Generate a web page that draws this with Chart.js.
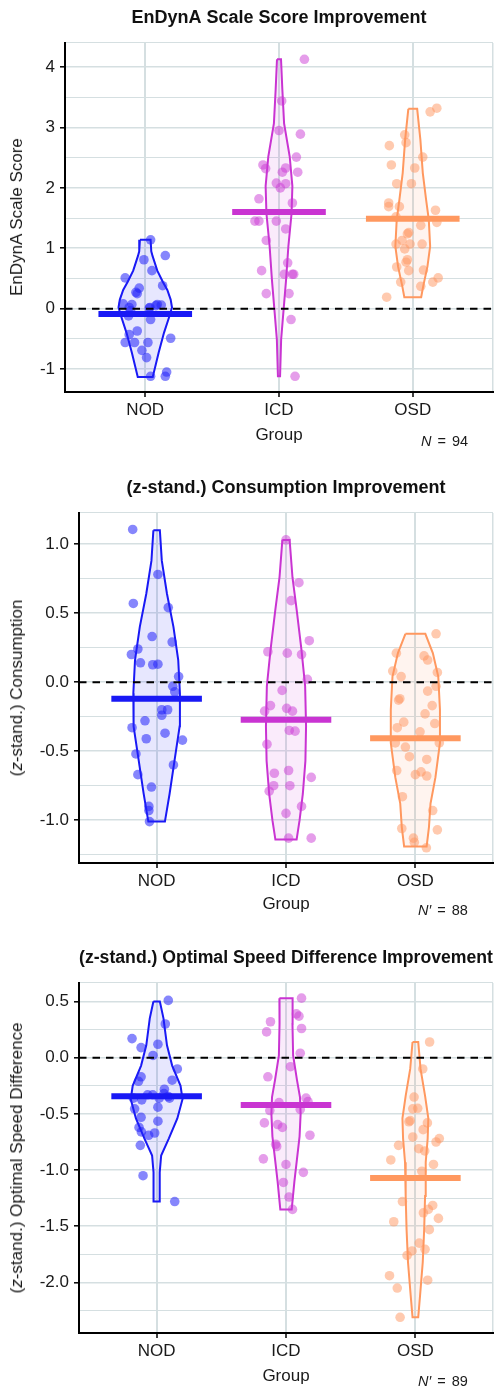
<!DOCTYPE html>
<html>
<head>
<meta charset="utf-8">
<script src="https://cdn.jsdelivr.net/npm/chart.js@4.4.1/dist/chart.umd.min.js"></script>
<style>
  html, body { margin: 0; padding: 0; background: #fff; }
  body { width: 503px; font-family: "Liberation Sans", Arial, sans-serif; color: #1a1a1a; }
  .panel { position: relative; width: 503px; }
  .panel canvas { position: absolute; left: 0; top: 0; }
  .ytitle { position: absolute; white-space: nowrap; font-size: 17px; line-height: 20px;
            transform: translate(-50%, -50%) rotate(-90deg); }
  .nlabel { position: absolute; white-space: nowrap; font-size: 14.5px; line-height: 16px;
            transform: translateY(-50%); word-spacing: 2px; }
</style>
</head>
<body>
<div class="panel" id="p1" style="height:462px">
  <canvas id="c1" width="503" height="462"></canvas>
  <div class="ytitle" style="left:17px;top:217px">EnDynA Scale Score</div>
  <div class="nlabel" style="left:421px;top:441px"><i>N</i> = 94</div>
</div>
<div class="panel" id="p2" style="height:471px">
  <canvas id="c2" width="503" height="471"></canvas>
  <div class="ytitle" style="left:17px;top:226px">(<i>z</i>-stand.) Consumption</div>
  <div class="nlabel" style="left:418px;top:448px"><i>N′</i> = 88</div>
</div>
<div class="panel" id="p3" style="height:454px">
  <canvas id="c3" width="503" height="454"></canvas>
  <div class="ytitle" style="left:17px;top:225px">(<i>z</i>-stand.) Optimal Speed Difference</div>
  <div class="nlabel" style="left:418px;top:448px"><i>N′</i> = 89</div>
</div>

<script>
// ---------- groups ----------
const groups = ['NOD', 'ICD', 'OSD'];

// ---------- EnDynA scale score improvement ----------
const scoreNOD = [1.14, 0.88, 0.81, 0.63, 0.51, 0.38, 0.34, 0.27, 0.25, 0.08, 0.07, 0.02, 0.02, 0.07, 0.06, 0.01,
  -0.03, 0.05, -0.12, -0.18, -0.37, -0.43, -0.56, -0.56, -0.56, -0.49, -0.69, -0.81, -1.12, -1.12, -1.05];
const scoreNODJitter = [0.04, 0.15, -0.01, 0.05, -0.15, 0.13, -0.045, -0.07, -0.06, -0.165, -0.10, -0.12, 0.035, 0.09, 0.12, 0.03,
  -0.11, 0.08, -0.125, 0.04, -0.06, -0.12, -0.15, -0.08, 0.02, 0.19, -0.025, 0.01, 0.04, 0.15, 0.16];
const scoreICD = [4.13, 3.44, 2.95, 2.89, 2.51, 2.38, 2.32, 2.33, 2.26, 2.26, 2.08, 2.07, 2.00, 1.82, 1.75, 1.45, 1.45,
  1.45, 1.32, 1.13, 0.76, 0.63, 0.57, 0.57, 0.57, 0.25, 0.25, -0.18, -1.12];
const scoreICDJitter = [0.19, 0.02, 0.0, 0.16, 0.13, -0.12, -0.10, 0.05, 0.025, 0.14, -0.02, 0.05, 0.01, -0.15, 0.10, -0.18, -0.15,
  -0.02, 0.05, -0.095, 0.065, -0.13, 0.04, 0.10, 0.11, -0.095, 0.075, 0.09, 0.12];
const scoreOSD = [3.32, 3.26, 2.88, 2.75, 2.70, 2.51, 2.38, 2.33, 2.07, 2.07, 1.75, 1.69, 1.69, 1.63, 1.52, 1.43, 1.38,
  1.26, 1.24, 1.13, 1.07, 1.07, 1.07, 0.99, 0.81, 0.77, 0.69, 0.63, 0.64, 0.44, 0.44, 0.51, 0.37, 0.19];
const scoreOSDJitter = [0.18, 0.13, -0.06, -0.05, -0.175, 0.075, -0.16, 0.015, -0.12, -0.01, -0.18, -0.18, -0.10, 0.17, -0.125, 0.18, 0.06,
  -0.03, -0.04, -0.08, -0.125, -0.02, 0.07, -0.06, -0.04, -0.05, -0.12, -0.03, 0.08, -0.09, 0.15, 0.19, 0.06, -0.195];
const scoreMedians = [-0.09, 1.60, 1.49];
// violin outlines: [value, half width of the density]
const scoreViolinNOD = [[1.14, 0.04], [0.95, 0.045], [0.87, 0.055], [0.63, 0.09], [0.45, 0.13], [0.31, 0.165], [0.15, 0.19],
  [0.02, 0.2], [-0.13, 0.18], [-0.40, 0.14], [-0.73, 0.1], [-1.13, 0.056]];
const scoreViolinICD = [[4.13, 0.015], [3.63, 0.025], [3.07, 0.038], [2.52, 0.08], [2.03, 0.1], [1.58, 0.094], [1.03, 0.07],
  [0.48, 0.053], [0.0, 0.035], [-0.51, 0.016], [-1.12, 0.008]];
const scoreViolinOSD = [[3.31, 0.033], [2.80, 0.057], [2.25, 0.075], [1.80, 0.10], [1.47, 0.12], [1.03, 0.13], [0.70, 0.11],
  [0.37, 0.078], [0.19, 0.063]];

// ---------- consumption improvement ----------
const consNOD = [1.106, 0.78, 0.57, 0.54, 0.33, 0.29, 0.24, 0.20, 0.14, 0.126, 0.13, 0.04, -0.03, -0.07, -0.20, -0.20,
  -0.24, -0.28, -0.33, -0.41, -0.37, -0.42, -0.52, -0.60, -0.67, -0.76, -0.90, -0.93, -1.01];
const consNODJitter = [-0.185, 0.01, -0.18, 0.09, -0.035, 0.12, -0.145, -0.195, -0.125, -0.03, 0.01, 0.17, 0.125, 0.14, 0.04, 0.085,
  0.04, -0.09, -0.19, -0.08, 0.065, 0.20, -0.16, 0.13, -0.145, -0.04, -0.06, -0.06, -0.055];
const consICD = [1.03, 0.72, 0.59, 0.30, 0.22, 0.21, 0.20, 0.02, -0.06, -0.17, -0.21, -0.19, -0.21, -0.35, -0.355, -0.45,
  -0.64, -0.66, -0.75, -0.79, -0.75, -0.69, -0.90, -0.95, -1.13, -1.13];
const consICDJitter = [0.0, 0.10, 0.04, 0.18, -0.14, 0.01, 0.12, 0.165, -0.03, -0.12, -0.165, 0.005, 0.05, 0.025, 0.07, -0.147,
  0.02, -0.09, -0.095, -0.13, 0.03, 0.195, 0.12, 0.0, 0.02, 0.195];
const consOSD = [0.35, 0.21, 0.19, 0.16, 0.08, 0.04, 0.07, -0.03, -0.065, -0.13, -0.12, -0.17, -0.23, -0.30, -0.29, -0.33,
  -0.36, -0.44, -0.44, -0.47, -0.54, -0.56, -0.64, -0.67, -0.65, -0.68, -0.83, -0.93, -1.06, -1.07, -1.13, -1.16, -1.20];
const consOSDJitter = [0.16, -0.147, 0.067, 0.095, -0.175, -0.11, 0.17, 0.16, 0.095, -0.13, -0.12, 0.13, 0.075, 0.15, -0.09, -0.14,
  0.036, -0.155, 0.185, -0.077, -0.046, 0.088, -0.144, 0.0, 0.044, 0.088, -0.10, 0.134, -0.105, 0.17, -0.015, -0.008, 0.085];
const consMedians = [-0.12, -0.273, -0.406];
const consViolinNOD = [[1.10, 0.025], [0.88, 0.04], [0.64, 0.08], [0.40, 0.13], [0.16, 0.167], [-0.08, 0.18], [-0.32, 0.178],
  [-0.57, 0.138], [-0.81, 0.10], [-1.01, 0.064]];
const consViolinICD = [[1.03, 0.028], [0.76, 0.05], [0.52, 0.083], [0.23, 0.12], [-0.03, 0.148], [-0.32, 0.155], [-0.57, 0.15],
  [-0.81, 0.13], [-1.00, 0.105], [-1.14, 0.082]];
const consViolinOSD = [[0.35, 0.077], [0.21, 0.135], [0.04, 0.177], [-0.20, 0.19], [-0.44, 0.19], [-0.69, 0.155], [-0.88, 0.117],
  [-1.05, 0.105], [-1.19, 0.087]];

// ---------- optimal speed difference improvement ----------
const speedNOD = [0.51, 0.30, 0.17, 0.09, 0.12, 0.02, -0.10, -0.17, -0.21, -0.20, -0.28, -0.33, -0.36, -0.375, -0.36, -0.32,
  -0.345, -0.33, -0.36, -0.44, -0.455, -0.53, -0.565, -0.62, -0.66, -0.67, -0.69, -0.78, -1.05, -1.28];
const speedNODJitter = [0.09, 0.067, -0.19, -0.12, 0.01, -0.028, 0.16, -0.12, -0.14, 0.12, 0.06, -0.07, -0.18, -0.115, 0.02, 0.057,
  0.09, -0.03, 0.10, 0.01, -0.17, -0.12, 0.01, -0.136, -0.118, -0.015, -0.062, -0.126, -0.105, 0.14];
const speedICD = [0.53, 0.39, 0.37, 0.32, 0.23, 0.26, 0.04, -0.08, -0.17, -0.36, -0.39, -0.40, -0.47, -0.46, -0.58, -0.595,
  -0.62, -0.69, -0.77, -0.79, -0.90, -0.95, -1.02, -1.11, -1.24, -1.35];
const speedICDJitter = [0.12, 0.08, 0.10, -0.12, -0.15, 0.12, 0.11, 0.035, -0.14, 0.155, 0.17, -0.054, -0.125, 0.11, -0.167, -0.064,
  -0.028, 0.185, -0.08, -0.072, -0.175, 0.0, 0.134, -0.02, 0.023, 0.05];
const speedOSD = [0.14, -0.10, -0.35, -0.455, -0.45, -0.56, -0.57, -0.58, -0.64, -0.705, -0.72, -0.75, -0.78, -0.81, -0.83, -0.91,
  -0.95, -1.01, -1.28, -1.315, -1.35, -1.38, -1.46, -1.43, -1.53, -1.65, -1.72, -1.76, -1.705, -1.94, -2.05, -1.98, -2.31];
const speedOSDJitter = [0.11, 0.057, -0.01, -0.02, 0.018, -0.04, -0.05, 0.093, 0.06, -0.02, 0.185, 0.16, -0.13, 0.026, 0.072, -0.19,
  0.14, 0.05, -0.1, 0.134, 0.10, 0.062, -0.167, 0.178, 0.108, 0.03, -0.026, -0.064, 0.075, -0.2, -0.14, 0.095, -0.118];
const speedMedians = [-0.342, -0.42, -1.07];
const speedViolinNOD = [[0.50, 0.025], [0.35, 0.053], [0.11, 0.08], [-0.07, 0.12], [-0.25, 0.185], [-0.37, 0.2], [-0.54, 0.16],
  [-0.72, 0.094], [-0.87, 0.035], [-1.02, 0.024], [-1.28, 0.024]];
const speedViolinICD = [[0.53, 0.051], [0.30, 0.05], [0.02, 0.055], [-0.20, 0.085], [-0.35, 0.108], [-0.50, 0.113], [-0.70, 0.105],
  [-0.90, 0.085], [-1.10, 0.065], [-1.35, 0.044]];
const speedViolinOSD = [[0.14, 0.022], [-0.10, 0.04], [-0.34, 0.075], [-0.54, 0.1], [-0.72, 0.095], [-0.93, 0.08], [-1.23, 0.075],
  [-1.53, 0.068], [-1.82, 0.057], [-2.12, 0.036], [-2.31, 0.022]];

// ---------- styling ----------
const lineColors  = ['rgb(25,25,245)', 'rgb(201,52,210)', 'rgb(255,152,95)'];
const pointColors = ['rgba(35,35,250,0.55)', 'rgba(204,60,214,0.5)', 'rgba(255,150,95,0.5)'];
const fillColors  = ['rgba(35,35,250,0.11)', 'rgba(204,60,214,0.1)', 'rgba(255,150,95,0.1)'];
const gridColor = '#d5dfe1';
const textColor = '#1a1a1a';
const X_MIN = -0.6, X_MAX = 2.6, BAR_HALF = 0.35;

Chart.defaults.font.family = '"Liberation Sans", Arial, Helvetica, sans-serif';
Chart.defaults.color = textColor;

function violinOutline(center, profile) {
  const left = profile.map(([y, w]) => ({ x: center - w, y }));
  const right = profile.slice().reverse().map(([y, w]) => ({ x: center + w, y }));
  return left.concat(right, [left[0]]);
}

function isMultiple(v, step) {
  const r = v / step;
  return Math.abs(r - Math.round(r)) < 1e-6;
}

function buildPanel(canvasId, cfg) {
  const datasets = [];
  cfg.violins.forEach((profile, g) => {
    datasets.push({
      data: violinOutline(g, profile), showLine: true, fill: 'shape', tension: 0,
      borderColor: lineColors[g], backgroundColor: fillColors[g], borderWidth: 2,
      pointRadius: 0, order: 4
    });
  });
  cfg.values.forEach((vals, g) => {
    datasets.push({
      data: vals.map((v, i) => ({ x: g + cfg.jitter[g][i], y: v })),
      backgroundColor: pointColors[g], borderWidth: 0, pointRadius: 4.8, order: 3
    });
  });
  cfg.medians.forEach((m, g) => {
    datasets.push({
      data: [{ x: g - BAR_HALF, y: m }, { x: g + BAR_HALF, y: m }], showLine: true,
      borderColor: lineColors[g], borderWidth: 6, borderCapStyle: 'butt', pointRadius: 0, order: 2
    });
  });
  datasets.push({
    data: [{ x: X_MIN, y: 0 }, { x: X_MAX, y: 0 }], showLine: true,
    borderColor: '#000', borderWidth: 2, borderDash: [7.5, 6], pointRadius: 0, order: 1
  });

  // horizontal grid positions: every minor step plus the top edge
  const yTicks = [];
  for (let k = Math.ceil(cfg.yMin / cfg.yMinor); k * cfg.yMinor <= cfg.yMax + 1e-9; k++) {
    yTicks.push(Math.round(k * cfg.yMinor * 1000) / 1000);
  }
  if (!yTicks.includes(cfg.yMax)) yTicks.push(cfg.yMax);
  const yMajor = v => isMultiple(v, cfg.yMajor);

  return new Chart(document.getElementById(canvasId), {
    type: 'scatter',
    data: { datasets },
    options: {
      responsive: false, animation: false, events: [],
      layout: { padding: { left: 0, right: 10, top: 0, bottom: 0 } },
      plugins: {
        legend: { display: false },
        tooltip: { enabled: false },
        title: {
          display: true, text: cfg.title, fullSize: false, color: '#111',
          font: { size: 18, weight: 'bold' }, padding: cfg.titlePad
        }
      },
      scales: {
        x: {
          type: 'linear', min: X_MIN, max: X_MAX,
          afterBuildTicks: a => { a.ticks = [0, 1, 2, X_MAX].map(v => ({ value: v })); },
          afterFit: s => { s.height = cfg.xAxisH; },
          ticks: {
            autoSkip: false, maxRotation: 0, padding: 3, font: { size: 17 }, color: textColor,
            callback: v => (Number.isInteger(v) ? groups[v] : '')
          },
          grid: {
            color: gridColor,
            lineWidth: c => (c.tick && Number.isInteger(c.tick.value) ? 2 : 1.5),
            tickColor: c => (c.tick && Number.isInteger(c.tick.value) ? '#000' : 'rgba(0,0,0,0)'),
            tickLength: 5, tickWidth: 1.5
          },
          border: { color: '#000', width: 2 },
          title: {
            display: true, text: 'Group', font: { size: 17 }, color: textColor,
            padding: { top: 0, bottom: cfg.groupPad }
          }
        },
        y: {
          type: 'linear', min: cfg.yMin, max: cfg.yMax,
          afterBuildTicks: a => { a.ticks = yTicks.map(v => ({ value: v })); },
          afterFit: s => { s.width = cfg.left; },
          ticks: {
            autoSkip: false, padding: 5, font: { size: 17 }, color: textColor,
            callback: v => (yMajor(v) ? (cfg.decimals ? v.toFixed(cfg.decimals) : String(v)) : '')
          },
          grid: {
            color: gridColor,
            lineWidth: c => (c.tick && yMajor(c.tick.value) ? 1.6 : 1.1),
            tickColor: c => (c.tick && yMajor(c.tick.value) ? '#000' : 'rgba(0,0,0,0)'),
            tickLength: 5, tickWidth: 1.5
          },
          border: { color: '#000', width: 2 }
        }
      }
    }
  });
}

buildPanel('c1', {
  title: 'EnDynA Scale Score Improvement',
  titlePad: { top: 7.2, bottom: 14.2 },
  left: 65, xAxisH: 70, groupPad: 16.8,
  yMin: -1.38, yMax: 4.4, yMinor: 0.5, yMajor: 1, decimals: 0,
  values: [scoreNOD, scoreICD, scoreOSD],
  jitter: [scoreNODJitter, scoreICDJitter, scoreOSDJitter],
  medians: scoreMedians,
  violins: [scoreViolinNOD, scoreViolinICD, scoreViolinOSD]
});

buildPanel('c2', {
  title: '(z-stand.) Consumption Improvement',
  titlePad: { top: 15.7, bottom: 13.7 },
  left: 79, xAxisH: 70, groupPad: 18.8,
  yMin: -1.31, yMax: 1.225, yMinor: 0.25, yMajor: 0.5, decimals: 1,
  values: [consNOD, consICD, consOSD],
  jitter: [consNODJitter, consICDJitter, consOSDJitter],
  medians: consMedians,
  violins: [consViolinNOD, consViolinICD, consViolinOSD]
});

buildPanel('c3', {
  title: '(z-stand.) Optimal Speed Difference Improvement',
  titlePad: { top: 14.2, bottom: 14.2 },
  left: 79, xAxisH: 54, groupPad: 0.8,
  yMin: -2.45, yMax: 0.665, yMinor: 0.25, yMajor: 0.5, decimals: 1,
  values: [speedNOD, speedICD, speedOSD],
  jitter: [speedNODJitter, speedICDJitter, speedOSDJitter],
  medians: speedMedians,
  violins: [speedViolinNOD, speedViolinICD, speedViolinOSD]
});
</script>
</body>
</html>
